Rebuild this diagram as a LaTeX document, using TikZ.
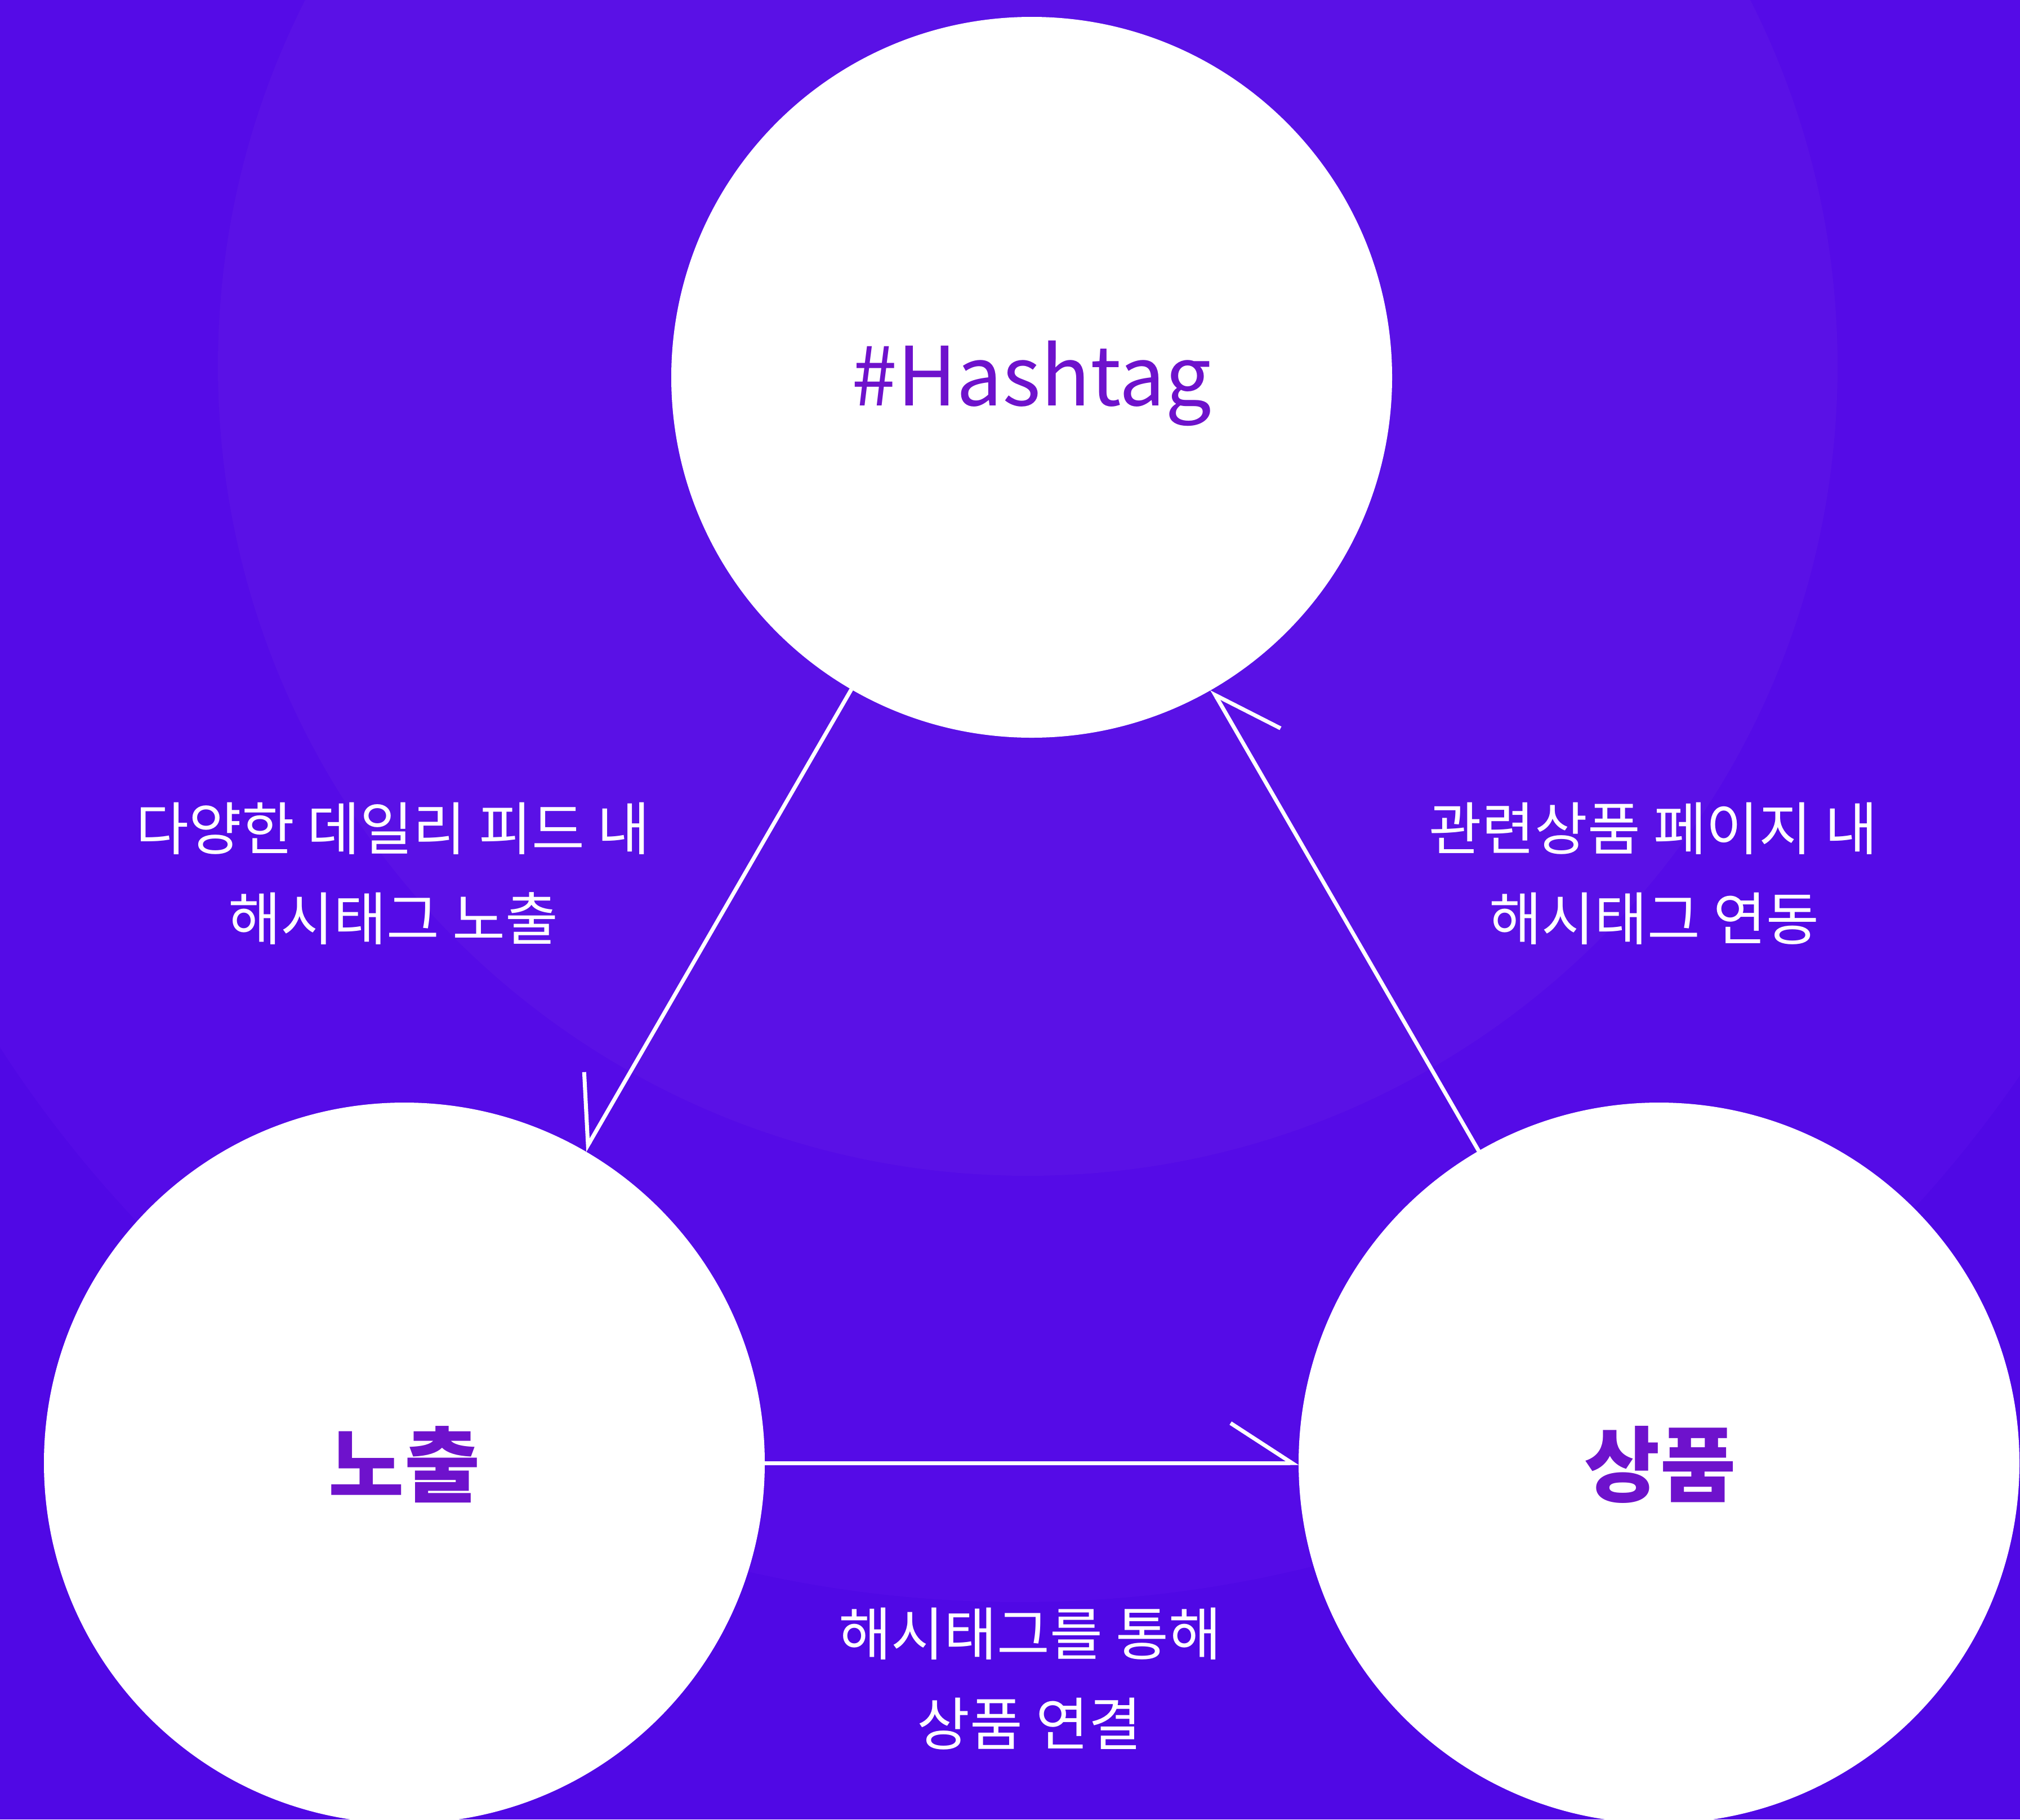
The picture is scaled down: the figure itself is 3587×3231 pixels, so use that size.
\documentclass[tikz,border=0pt]{standalone}
\usepackage{fontspec}
\usetikzlibrary{arrows.meta}
\newfontfamily\krfont{Noto Sans CJK KR}
\definecolor{bgouter}{HTML}{5008E5}
\definecolor{bgmid}{HTML}{550BE7}
\definecolor{bginner}{HTML}{5A11E6}
\definecolor{txtpurple}{HTML}{6E12CC}
\tikzset{
  bubble/.style={circle, fill=white, minimum size=1280pt, inner sep=0pt, outer sep=0pt},
  conn/.style={draw=white, line width=7pt},
  bigtxt/.style={anchor=base, inner sep=0pt, text=txtpurple, font=\krfont\bfseries\fontsize{146}{146}\selectfont},
  hashtxt/.style={anchor=base, inner sep=0pt, text=txtpurple, font=\krfont\fontsize{145}{145}\selectfont},
  lbl/.style={anchor=base, inner sep=0pt, text=white, font=\krfont\fontsize{102}{102}\selectfont}
}
\begin{document}
\begin{tikzpicture}[x=1pt,y=-1pt]
\fill[bgouter] (0,0) rectangle (3587,3231);
\useasboundingbox (0,0) rectangle (3587,3231);
\begin{scope}
\clip (0,0) rectangle (3587,3231);
\fill[bgmid] (1810,690) circle[radius=2155pt];
\fill[bginner] (1825,650) circle[radius=1438pt];
\end{scope}
\node[bubble] (hash) at (1832,670) {};
\node[bubble] (nochul) at (718,2598) {};
\node[bubble] (sangpum) at (2946,2598) {};
\draw[conn, -{Straight Barb[harpoon,swap,length=109pt,angle'=66]}] (hash) -- (nochul);
\draw[conn, -{Straight Barb[harpoon,swap,length=109pt,angle'=66]}] (sangpum) -- (hash);
\draw[conn, -{Straight Barb[harpoon,length=109pt,angle'=66]}] (nochul) -- (sangpum);
\node[hashtxt] (thash) at (1832,720) {\#Hashtag};
\node[bigtxt] (tnochul) at (718,2655) {노출};
\node[bigtxt] (tsangpum) at (2948,2655) {상품};
\node[lbl] (l1a) at (698,1509) {다양한 데일리 피드 내};
\node[lbl] (l1b) at (698,1669) {해시태그 노출};
\node[lbl] (l2a) at (2936,1509) {관련상품 페이지 내};
\node[lbl] (l2b) at (2937,1669) {해시태그 연동};
\node[lbl] (l3a) at (1829,2939) {해시태그를 통해};
\node[lbl] (l3b) at (1828,3099) {상품 연결};
\end{tikzpicture}
\end{document}
